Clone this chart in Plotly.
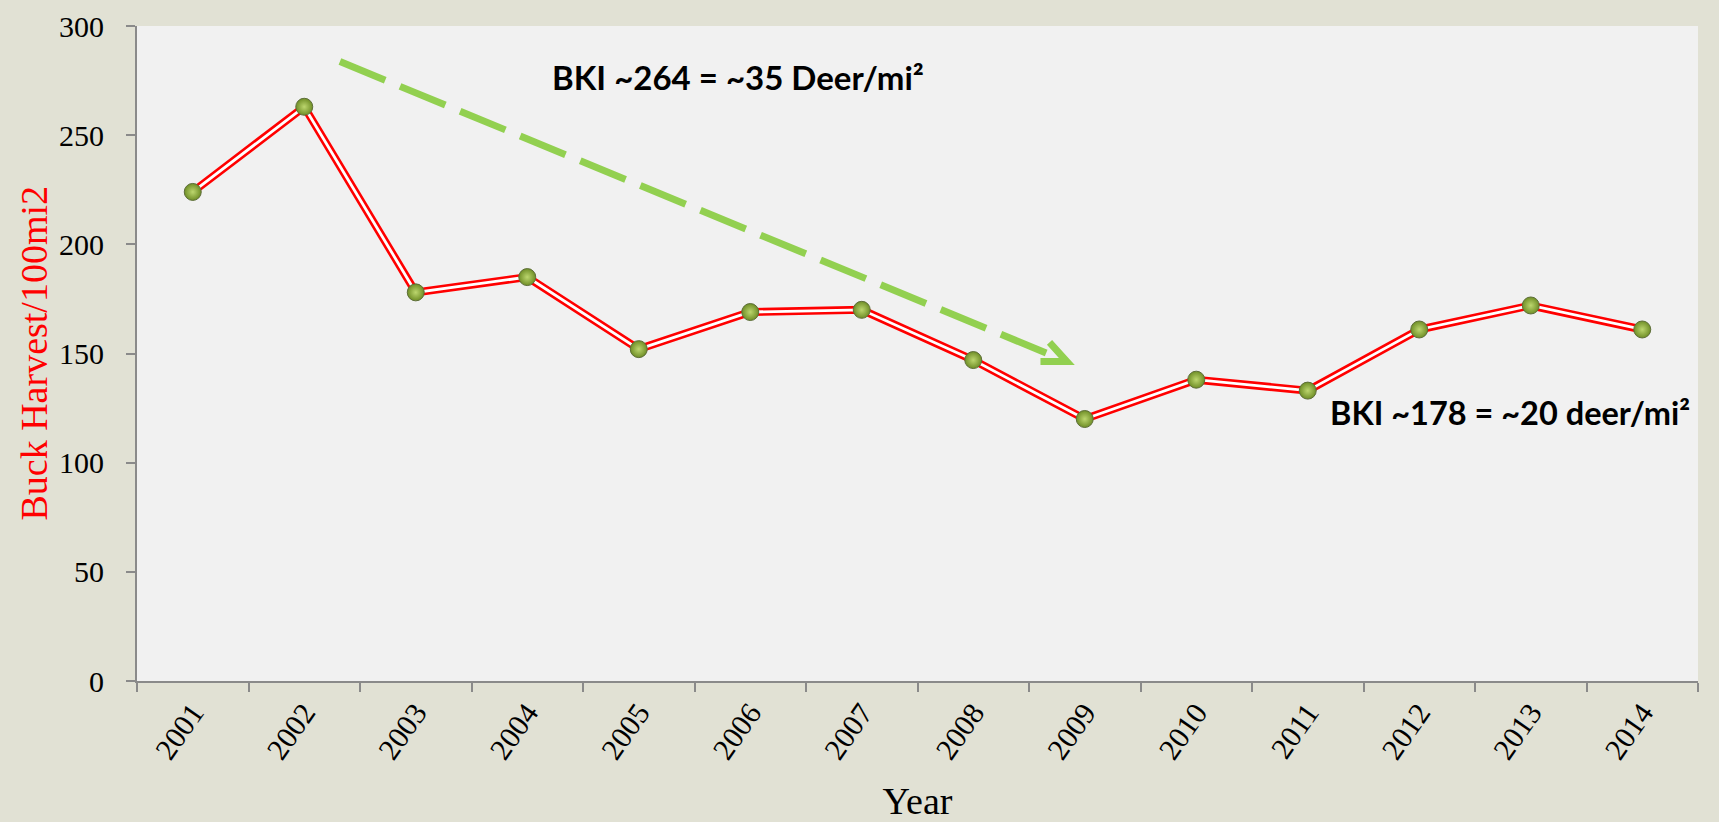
import plotly.graph_objects as go

years = ["2001", "2002", "2003", "2004", "2005", "2006", "2007",
         "2008", "2009", "2010", "2011", "2012", "2013", "2014"]
buck_harvest = [224, 263, 178, 185, 152, 169, 170, 147, 120, 138, 133, 161, 172, 161]
y_ticks = [0, 50, 100, 150, 200, 250, 300]

y_title = "Buck Harvest/100mi2"
note_high = "BKI ~264 = ~35 Deer/mi²"
note_low = "BKI ~178 = ~20 deer/mi²"

# trend arrow (category-index / value coordinates)
arrow_start = (1.32, 283.7)
arrow_tip = (7.84, 146.3)
arrow_upper = (7.684, 155.1)
arrow_lower = (7.603, 146.3)

BG = "#e1e1d4"
PLOT_BG = "#f1f1f1"
AX = "#8a8a8a"
GREEN = "#92d050"

fig = go.Figure()
fig.add_trace(go.Scatter(x=years, y=buck_harvest, mode="lines",
                         line=dict(color="#ff0000", width=8), hoverinfo="skip",
                         showlegend=False))
fig.add_trace(go.Scatter(x=years, y=buck_harvest, mode="lines",
                         line=dict(color="#ffffff", width=2.8), hoverinfo="skip",
                         showlegend=False))
fig.add_trace(go.Scatter(x=years, y=buck_harvest, mode="markers",
                         marker=dict(size=17, color="#6f8e26",
                                     gradient=dict(type="radial", color="#bcd66e"),
                                     line=dict(color="#5d6e38", width=1)),
                         showlegend=False))

fig.add_shape(type="line", xref="x", yref="y",
              x0=arrow_start[0], y0=arrow_start[1], x1=arrow_tip[0], y1=arrow_tip[1],
              line=dict(color=GREEN, width=7, dash="49px,16px"))
fig.add_shape(type="path", xref="x", yref="y",
              path=(f"M {arrow_upper[0]} {arrow_upper[1]} L {arrow_tip[0]} {arrow_tip[1]} "
                    f"L {arrow_lower[0]} {arrow_lower[1]}"),
              line=dict(color=GREEN, width=7))

fig.add_annotation(x=3.2, y=276.7, xref="x", yref="y", text=note_high,
                   showarrow=False, xanchor="left", yanchor="middle",
                   font=dict(family="Lato", size=33, color="#000000", weight="bold"))
fig.add_annotation(x=10.18, y=122.8, xref="x", yref="y", text=note_low,
                   showarrow=False, xanchor="left", yanchor="middle",
                   font=dict(family="Lato", size=32.5, color="#000000", weight="bold"))
fig.add_annotation(x=-0.0666, y=0.5, xref="paper", yref="paper", text=y_title,
                   showarrow=False, textangle=-90, xanchor="center", yanchor="middle",
                   font=dict(family="Liberation Serif", size=38, color="#ff0000"))

fig.update_layout(
    width=1719, height=822,
    margin=dict(l=137, r=21, t=26, b=141),
    paper_bgcolor=BG, plot_bgcolor=PLOT_BG,
    font=dict(family="Liberation Serif", color="#000000"),
    xaxis=dict(type="category", tickson="boundaries", ticks="outside", ticklen=9,
               tickwidth=2, tickcolor=AX, showline=True, linecolor=AX, linewidth=2,
               showgrid=False, zeroline=False, tickangle=-55,
               tickfont=dict(size=30, family="Liberation Serif"),
               title=dict(text="Year", font=dict(size=38, family="Liberation Serif"),
                          standoff=31),
               range=[-0.5, 13.5], automargin=False),
    yaxis=dict(range=[0, 300], tickvals=y_ticks, ticks="outside", ticklen=9,
               tickwidth=2, tickcolor=AX, showline=True, linecolor=AX, linewidth=2,
               showgrid=False, zeroline=False, ticklabelstandoff=16,
               tickfont=dict(size=30, family="Liberation Serif"),
               automargin=False),
)

fig.write_html("out.html", config={"displayModeBar": False},
               post_script="document.body.style.margin='0';")
